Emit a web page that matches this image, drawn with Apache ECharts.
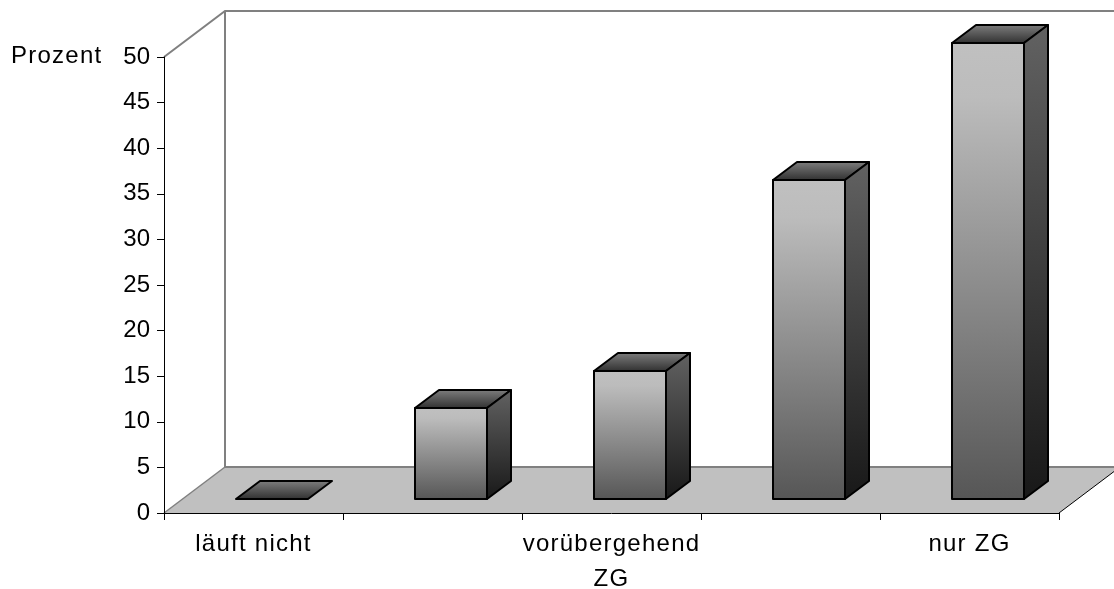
<!DOCTYPE html>
<html><head><meta charset="utf-8">
<style>html,body{margin:0;padding:0;background:#fff}#c{width:1114px;height:589px}</style>
<script src="https://cdn.jsdelivr.net/npm/echarts@6/dist/echarts.min.js"></script>
</head><body><div id="c"></div>
<script>
const categories = ['läuft nicht', '', 'vorübergehend\nZG', '', 'nur ZG'];
const values = [0, 10, 14, 35, 50];
const yTitle = 'Prozent';

const FONT = '"Liberation Sans", Arial, sans-serif';
const FS = 24;
const DEPTH_X = 24, DEPTH_Y = 18;   // bar depth
const FLOOR_X = 61, FLOOR_Y = 46;   // floor depth
const LIFT = 14, SHIFT = 18.6, BAR_W = 72;

// The reference's words are set a little wider than the font's natural spacing.
const nativeFillText = CanvasRenderingContext2D.prototype.fillText;
CanvasRenderingContext2D.prototype.fillText = function(t, x, y, w){
  this.letterSpacing = /[a-zA-Z]/.test(t) ? '1.25px' : '0px';
  return w === undefined ? nativeFillText.call(this, t, x, y) : nativeFillText.call(this, t, x, y, w);
};

function grad(stops){
  return {type:'linear',x:0,y:0,x2:0,y2:1,colorStops:stops.map(s=>({offset:s[0],color:s[1]}))};
}
const frontFill = grad([[0,'#c0c0c0'],[0.12,'#bcbcbc'],[1,'#565656']]);
const sideFill  = grad([[0,'#626262'],[1,'#181818']]);
const topFill   = grad([[0,'#808080'],[1,'#2e2e2e']]);

function renderFloor(params, api){
  const c = params.coordSys;
  const L = c.x, R = c.x + c.width, T = c.y, B = c.y + c.height;
  const wall = {stroke:'#808080', lineWidth:2, fill:null};
  return {type:'group', silent:true, children:[
    {type:'polygon', shape:{points:[[L,B],[L+FLOOR_X,B-FLOOR_Y],[R+FLOOR_X,B-FLOOR_Y],[R,B]]}, style:{fill:'#c0c0c0'}},
    {type:'polyline', shape:{points:[[L,T],[L+FLOOR_X,T-FLOOR_Y],[R+FLOOR_X,T-FLOOR_Y]]}, style:wall},
    {type:'line', shape:{x1:L+FLOOR_X,y1:T-FLOOR_Y,x2:L+FLOOR_X,y2:B-FLOOR_Y}, style:wall},
    {type:'polyline', shape:{points:[[L,B],[L+FLOOR_X,B-FLOOR_Y]]}, style:{stroke:'#808080',lineWidth:1.5,fill:null}},
    {type:'line', shape:{x1:L+FLOOR_X,y1:B-FLOOR_Y,x2:R+FLOOR_X,y2:B-FLOOR_Y}, style:wall},
    {type:'line', shape:{x1:R,y1:B,x2:R+FLOOR_X,y2:B-FLOOR_Y}, style:{stroke:'#000',lineWidth:1}}
  ]};
}

function renderBar(params, api){
  const base = api.coord([api.value(0), 0]);
  const top  = api.coord([api.value(0), api.value(1)]);
  const x0 = Math.round(base[0] + SHIFT - BAR_W/2), x1 = x0 + BAR_W;
  const yB = Math.round(base[1] - LIFT), yT = Math.round(top[1] - LIFT);
  const edge = {stroke:'#000', lineWidth:2, lineJoin:'round'};
  const kids = [];
  kids.push({type:'polygon', shape:{points:[[x0,yT],[x0+DEPTH_X,yT-DEPTH_Y],[x1+DEPTH_X,yT-DEPTH_Y],[x1,yT]]},
    style:Object.assign({fill:topFill},edge)});
  if (yB - yT > 0) {
    kids.push({type:'polygon', shape:{points:[[x1,yT],[x1+DEPTH_X,yT-DEPTH_Y],[x1+DEPTH_X,yB-DEPTH_Y],[x1,yB]]},
      style:Object.assign({fill:sideFill},edge)});
    kids.push({type:'polygon', shape:{points:[[x0,yT],[x1,yT],[x1,yB],[x0,yB]]},
      style:Object.assign({fill:frontFill},edge)});
  }
  return {type:'group', children:kids};
}

const chart = echarts.init(document.getElementById('c'), null, {renderer:'canvas'});
chart.setOption({
  animation:false,
  backgroundColor:'#fff',
  title:{text:yTitle,left:6,top:39,textStyle:{fontFamily:FONT,fontSize:FS,fontWeight:'normal',color:'#000'}},
  grid:{left:164,right:55,top:57,bottom:76,containLabel:false,outerBoundsMode:'none'},
  xAxis:{type:'category',data:categories,boundaryGap:true,
    axisLine:{show:true,lineStyle:{color:'#000',width:1}},
    axisTick:{show:true,length:7,alignWithLabel:false,interval:0,lineStyle:{color:'#000',width:1}},
    axisLabel:{interval:0,margin:14,fontFamily:FONT,fontSize:FS,color:'#000',lineHeight:35},
    splitLine:{show:false}},
  yAxis:{type:'value',min:0,max:50,interval:5,
    axisLine:{show:true,lineStyle:{color:'#000',width:1}},
    axisTick:{show:true,length:7,lineStyle:{color:'#000',width:1}},
    axisLabel:{margin:14,fontFamily:FONT,fontSize:FS,color:'#000',padding:[2,0,0,0]},
    splitLine:{show:false}},
  series:[
    {type:'custom',name:'floor',z:-1,clip:false,silent:true,data:[[0,0]],renderItem:renderFloor,tooltip:{show:false}},
    {type:'custom',name:'Prozent',z:3,clip:false,data:values.map((v,i)=>[i,v]),encode:{x:0,y:1},renderItem:renderBar}
  ]
});
</script></body></html>
